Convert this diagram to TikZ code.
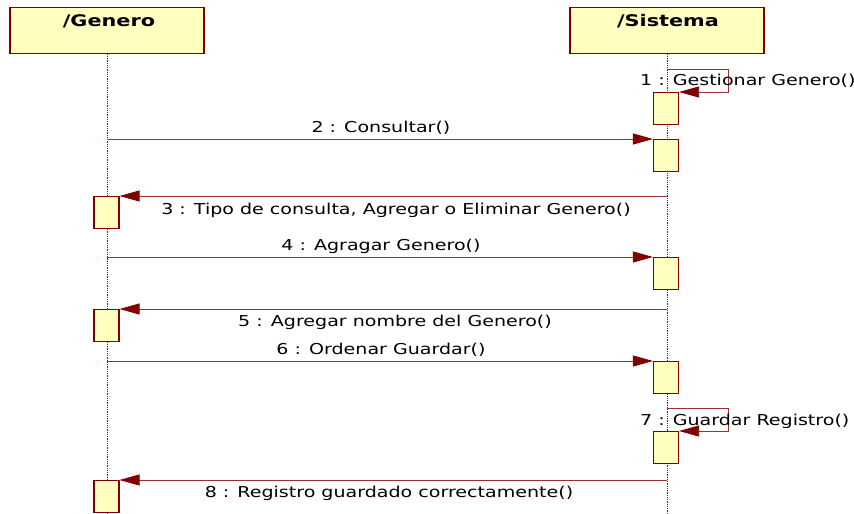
\documentclass[tikz,border=0pt]{standalone}
\usepackage{fontspec}
\usepackage{graphicx}
\setmainfont{DejaVu Sans}
\usetikzlibrary{arrows.meta}
\definecolor{umlred}{HTML}{800000}
\definecolor{umlline}{HTML}{9A3030}
\definecolor{umlfill}{HTML}{FFFFC0}
% wide message and title lettering
\newcommand{\msgtext}[1]{\scalebox{1.27}[1]{\fontsize{15}{17}\selectfont #1}}
\newcommand{\headtext}[1]{\scalebox{1.3}[1]{\bfseries\fontsize{16}{18}\selectfont #1}}
\tikzset{
  head/.style={draw=umlred, line width=1.2pt, fill=umlfill, minimum width=194pt,
    minimum height=46pt, inner sep=0pt, anchor=north},
  act/.style={draw=umlred, line width=1.1pt, fill=umlfill, minimum width=25pt,
    minimum height=32pt, inner sep=0pt, anchor=north},
  life/.style={densely dotted, line width=0.8pt, black!80},
  msg/.style={umlline, line width=0.8pt, -{Triangle[length=20pt,width=11pt,fill=umlred,color=umlred]}},
  lbl/.style={text=black, inner sep=0pt},
  ttl/.style={text=black, inner sep=0pt}
}
\begin{document}
\begin{tikzpicture}[x=1pt,y=-1pt]
\useasboundingbox[fill=white] (0,0) rectangle (854,514);

% lifeline heads
\node[head] (g) at (107,7) {};
\node[ttl] at (109,21) {\headtext{/Genero}};
\node[head] (s) at (667,7) {};
\node[ttl] at (668,21) {\headtext{/Sistema}};

% lifelines
\draw[life] (g.south) -- (g.south |- 0,514);
\draw[life] (s.south) -- (s.south |- 0,514);

% activation bars on /Sistema
\node[act] (s1) at (666,92) {};
\node[act] (s2) at (666,139) {};
\node[act] (s3) at (666,257) {};
\node[act] (s4) at (666,361) {};
\node[act] (s5) at (666,431) {};

% activation bars on /Genero
\node[act] (g1) at (106.5,196) {};
\node[act] (g2) at (106.5,309) {};
\node[act] (g3) at (106.5,480) {};

% self call 1
\draw[msg] (s.south |- 0,69) -- ++(61,0) |- (s1.north east);
\node[lbl, anchor=west] at (640,81) {\msgtext{1 : Gestionar Genero()}};

% message 2
\draw[msg] (g.south |- s2.north) -- (s2.north west);
\node[lbl] at (381,128) {\msgtext{2 : Consultar()}};

% message 3
\draw[msg] (s.south |- g1.north) -- (g1.north east);
\node[lbl] at (396,210) {\msgtext{3 : Tipo de consulta, Agregar o Eliminar Genero()}};

% message 4
\draw[msg] (g.south |- s3.north) -- (s3.north west);
\node[lbl] at (381,246) {\msgtext{4 : Agragar Genero()}};

% message 5
\draw[msg] (s.south |- g2.north) -- (g2.north east);
\node[lbl] at (395,322) {\msgtext{5 : Agregar nombre del Genero()}};

% message 6
\draw[msg] (g.south |- s4.north) -- (s4.north west);
\node[lbl] at (381,350) {\msgtext{6 : Ordenar Guardar()}};

% self call 7
\draw[msg] (s.south |- 0,408) -- ++(61,0) |- (s5.north east);
\node[lbl, anchor=west] at (640,421) {\msgtext{7 : Guardar Registro()}};

% message 8
\draw[msg] (s.south |- g3.north) -- (g3.north east);
\node[lbl] at (389,493) {\msgtext{8 : Registro guardado correctamente()}};
\end{tikzpicture}
\end{document}
